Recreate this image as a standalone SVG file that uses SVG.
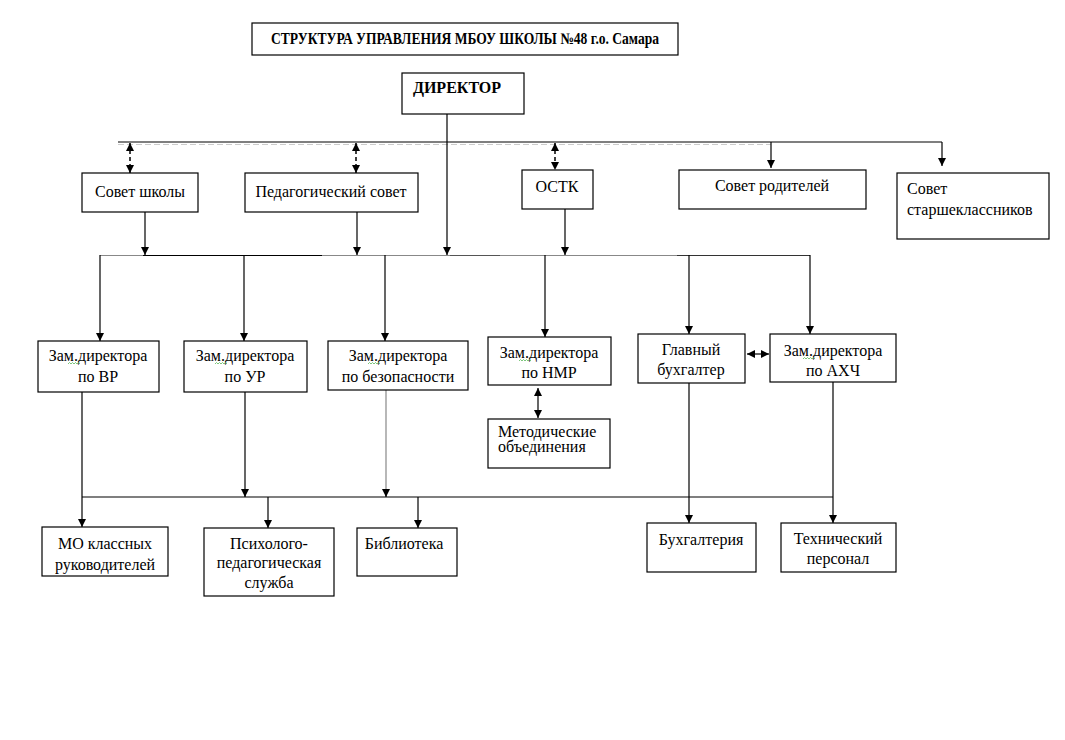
<svg xmlns="http://www.w3.org/2000/svg" width="1065" height="740" viewBox="0 0 1065 740">
<style>
.box{fill:#fff;stroke:#000;stroke-width:1.2}
.t{font-family:"Liberation Serif","Times New Roman",serif;font-size:16px;fill:#000}
.c{text-anchor:middle}
.b{font-weight:bold}
.ln{stroke:#000;stroke-width:1.2;fill:none}
.gr{stroke:#888;stroke-width:1.2;fill:none}
.dash{stroke:#000;stroke-width:1.5;stroke-dasharray:4 3;fill:none}
.sq{stroke:#5cb85c;stroke-width:0.8;fill:none}
</style>
<defs>
<marker id="ah" viewBox="0 0 10 10" refX="10" refY="5" markerWidth="8" markerHeight="8" markerUnits="userSpaceOnUse" orient="auto-start-reverse">
<path d="M0,0 L10,5 L0,10 z" fill="#000"/>
</marker>
</defs>
<rect width="1065" height="740" fill="#fff"/>

<g id="connectors">
<line class="ln" x1="118" y1="142" x2="942" y2="142"/>
<line x1="118" y1="144.5" x2="771" y2="144.5" stroke="#ccc" stroke-width="1" stroke-dasharray="6 3"/>
<line class="ln" x1="447" y1="114" x2="447" y2="255" marker-end="url(#ah)"/>
<line class="dash" x1="130" y1="143" x2="130" y2="173" marker-start="url(#ah)" marker-end="url(#ah)"/>
<line class="dash" x1="356" y1="143" x2="356" y2="173" marker-start="url(#ah)" marker-end="url(#ah)"/>
<line class="dash" x1="555" y1="143" x2="555" y2="170" marker-start="url(#ah)" marker-end="url(#ah)"/>
<line class="ln" x1="771" y1="142" x2="771" y2="168" marker-end="url(#ah)"/>
<line class="ln" x1="942" y1="142" x2="942" y2="166" marker-end="url(#ah)"/>
<line class="ln" x1="145" y1="212" x2="145" y2="255" marker-end="url(#ah)"/>
<line class="ln" x1="357" y1="212" x2="357" y2="255" marker-end="url(#ah)"/>
<line class="ln" x1="565" y1="209" x2="565" y2="255" marker-end="url(#ah)"/>
<line class="gr" x1="100" y1="255.5" x2="143" y2="255.5"/>
<line class="ln" x1="143" y1="255.5" x2="322" y2="255.5"/>
<line class="gr" x1="322" y1="255.5" x2="450" y2="255.5"/>
<line x1="450" y1="255.5" x2="500" y2="255.5" stroke="#555" stroke-width="1.2"/>
<line class="gr" x1="500" y1="255.5" x2="677" y2="255.5"/>
<line x1="677" y1="255.5" x2="810" y2="255.5" stroke="#333" stroke-width="1.2"/>
<line class="ln" x1="100" y1="255" x2="100" y2="341" marker-end="url(#ah)"/>
<line class="ln" x1="244" y1="255" x2="244" y2="341" marker-end="url(#ah)"/>
<line class="ln" x1="385" y1="255" x2="385" y2="341" marker-end="url(#ah)"/>
<line class="ln" x1="545" y1="255" x2="545" y2="337" marker-end="url(#ah)"/>
<line class="ln" x1="689" y1="255" x2="689" y2="334" marker-end="url(#ah)"/>
<line class="ln" x1="810" y1="255" x2="810" y2="334" marker-end="url(#ah)"/>
<line class="ln" x1="747" y1="354" x2="769" y2="354" marker-start="url(#ah)" marker-end="url(#ah)"/>
<line class="ln" x1="538" y1="388" x2="538" y2="418" marker-start="url(#ah)" marker-end="url(#ah)"/>
<line class="ln" x1="82" y1="392" x2="82" y2="527" marker-end="url(#ah)"/>
<line class="ln" x1="245" y1="392" x2="245" y2="497" marker-end="url(#ah)"/>
<line class="gr" x1="386" y1="390" x2="386" y2="491"/>
<line class="ln" x1="386" y1="489" x2="386" y2="497" marker-end="url(#ah)"/>
<line class="ln" x1="82" y1="497" x2="833" y2="497"/>
<line class="ln" x1="268" y1="497" x2="268" y2="528" marker-end="url(#ah)"/>
<line class="ln" x1="418" y1="497" x2="418" y2="528" marker-end="url(#ah)"/>
<line class="ln" x1="689" y1="383" x2="689" y2="523" marker-end="url(#ah)"/>
<line class="ln" x1="833" y1="382" x2="833" y2="523" marker-end="url(#ah)"/>
</g>

<g id="title">
<rect class="box" x="252" y="23" width="426" height="32"/>
<text class="t b c" x="465" y="44" font-size="12" textLength="388" lengthAdjust="spacingAndGlyphs">СТРУКТУРА УПРАВЛЕНИЯ МБОУ ШКОЛЫ  №48 г.о. Самара</text>
</g>
<g id="director">
<rect class="box" x="402" y="73" width="122" height="41"/>
<text class="t b c" x="457" y="93" font-size="17">ДИРЕКТОР</text>
</g>

<g id="sovet-shkoly">
<rect class="box" x="82" y="173" width="116" height="39"/>
<text class="t c" x="140" y="197">Совет школы</text>
</g>
<g id="ped-sovet">
<rect class="box" x="245" y="173" width="173" height="39"/>
<text class="t c" x="331" y="197">Педагогический совет</text>
</g>
<g id="ostk">
<rect class="box" x="522" y="170" width="71" height="39"/>
<text class="t c" x="557" y="192">ОСТК</text>
</g>
<g id="sovet-roditeley">
<rect class="box" x="679" y="170" width="187" height="39"/>
<text class="t c" x="772" y="191">Совет родителей</text>
</g>
<g id="sovet-starsheklassnikov">
<rect class="box" x="897" y="173" width="152" height="66"/>
<text class="t" x="907" y="194">Совет</text>
<text class="t" x="907" y="215">старшеклассников</text>
</g>

<g id="zam-vr">
<rect class="box" x="38" y="341" width="121" height="51"/>
<text class="t c" x="98" y="361">Зам.директора</text>
<text class="t c" x="98" y="382">по ВР</text>
<path class="sq" d="M68,364 l1.5,-1.5 l1.5,1.5 l1.5,-1.5 l1.5,1.5 l1.5,-1.5 l1.5,1.5 l1.5,-1.5 l1.5,1.5"/>
</g>
<g id="zam-ur">
<rect class="box" x="184" y="341" width="123" height="51"/>
<text class="t c" x="245" y="361">Зам.директора</text>
<text class="t c" x="245" y="382">по УР</text>
<path class="sq" d="M215,364 l1.5,-1.5 l1.5,1.5 l1.5,-1.5 l1.5,1.5 l1.5,-1.5 l1.5,1.5 l1.5,-1.5 l1.5,1.5"/>
</g>
<g id="zam-bezopasnosti">
<rect class="box" x="328" y="341" width="140" height="49"/>
<text class="t c" x="398" y="361">Зам.директора</text>
<text class="t c" x="398" y="382">по безопасности</text>
<path class="sq" d="M368,364 l1.5,-1.5 l1.5,1.5 l1.5,-1.5 l1.5,1.5 l1.5,-1.5 l1.5,1.5 l1.5,-1.5 l1.5,1.5"/>
</g>
<g id="zam-nmr">
<rect class="box" x="488" y="337" width="123" height="48"/>
<text class="t c" x="549" y="358">Зам.директора</text>
<text class="t c" x="549" y="378">по НМР</text>
<path class="sq" d="M519,361 l1.5,-1.5 l1.5,1.5 l1.5,-1.5 l1.5,1.5 l1.5,-1.5 l1.5,1.5 l1.5,-1.5 l1.5,1.5"/>
</g>
<g id="glavny-buhgalter">
<rect class="box" x="638" y="334" width="107" height="49"/>
<text class="t c" x="691" y="355">Главный</text>
<text class="t c" x="691" y="375">бухгалтер</text>
</g>
<g id="zam-ahch">
<rect class="box" x="770" y="334" width="126" height="48"/>
<text class="t c" x="833" y="356">Зам.директора</text>
<text class="t c" x="833" y="376">по АХЧ</text>
<path class="sq" d="M803,359 l1.5,-1.5 l1.5,1.5 l1.5,-1.5 l1.5,1.5 l1.5,-1.5 l1.5,1.5 l1.5,-1.5 l1.5,1.5"/>
</g>
<g id="metod-obedineniya">
<rect class="box" x="488" y="419" width="122" height="49"/>
<text class="t" x="498" y="437" font-size="11">Методические</text>
<text class="t" x="498" y="452" font-size="11">объединения</text>
</g>

<g id="mo-klassnyh">
<rect class="box" x="42" y="527" width="126" height="49"/>
<text class="t c" x="105" y="549">МО классных</text>
<text class="t c" x="105" y="570">руководителей</text>
</g>
<g id="psiholog">
<rect class="box" x="204" y="528" width="130" height="68"/>
<text class="t c" x="269" y="549">Психолого-</text>
<text class="t c" x="269" y="568">педагогическая</text>
<text class="t c" x="269" y="588">служба</text>
</g>
<g id="biblioteka">
<rect class="box" x="357" y="528" width="100" height="48"/>
<text class="t c" x="404" y="549">Библиотека</text>
</g>
<g id="buhgalteriya">
<rect class="box" x="647" y="523" width="109" height="49"/>
<text class="t c" x="701" y="545">Бухгалтерия</text>
</g>
<g id="tech-personal">
<rect class="box" x="781" y="523" width="115" height="49"/>
<text class="t c" x="838" y="544">Технический</text>
<text class="t c" x="838" y="564">персонал</text>
</g>
</svg>
